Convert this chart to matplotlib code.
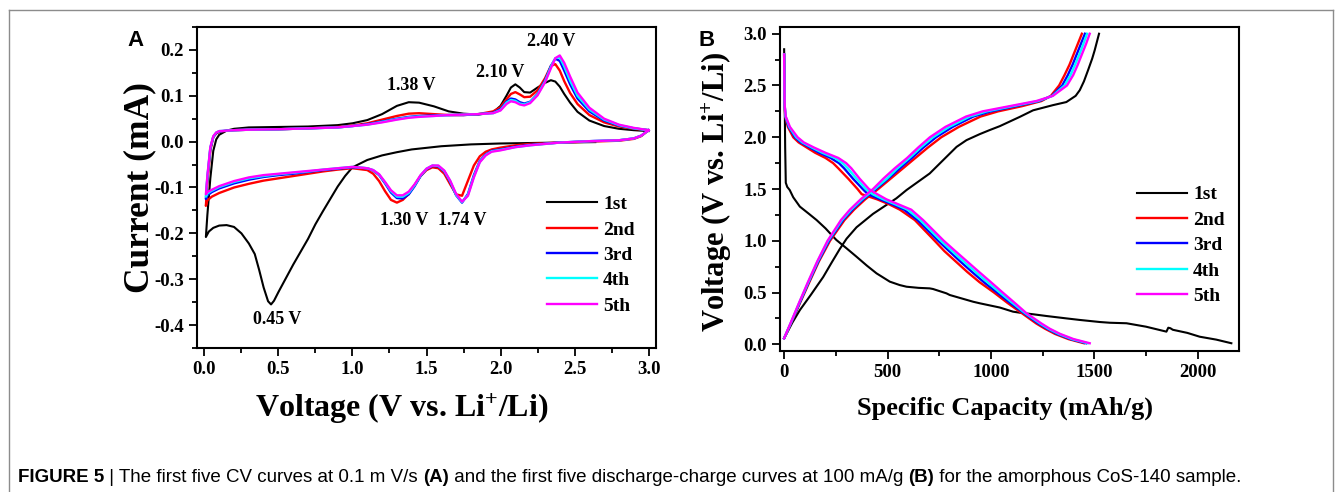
import matplotlib
matplotlib.use('Agg')
import matplotlib.pyplot as plt
from matplotlib.lines import Line2D
from matplotlib.ticker import MultipleLocator, FormatStrFormatter

plt.rcParams['font.family'] = ['Liberation Serif', 'DejaVu Serif']
plt.rcParams['font.weight'] = 'bold'
plt.rcParams['mathtext.fontset'] = 'custom'
plt.rcParams['mathtext.rm'] = 'Liberation Serif:bold'
plt.rcParams['mathtext.default'] = 'rm'

cycles = ['1st', '2nd', '3rd', '4th', '5th']
colors = ['black', '#ff0000', '#0000ff', '#00ffff', '#ff00ff']

### Panel A: CV data (V, mA)
# first cathodic sweep of cycle 1 (from OCV)
cv1_cath_v = [2.64, 2.4, 2.2, 2.0, 1.8, 1.6, 1.4, 1.3, 1.2, 1.1, 1.0, 0.95, 0.9, 0.85, 0.8,
              0.75, 0.7, 0.65, 0.6, 0.55, 0.5, 0.47, 0.45, 0.43, 0.4, 0.37, 0.34, 0.3,
              0.25, 0.2, 0.15, 0.1, 0.06, 0.03, 0.01]
cv1_cath_i = [-0.001, -0.002, -0.003, -0.004, -0.006, -0.010, -0.017, -0.023, -0.030, -0.040,
              -0.056, -0.075, -0.098, -0.125, -0.152, -0.180, -0.212, -0.240, -0.268, -0.298,
              -0.328, -0.347, -0.355, -0.348, -0.318, -0.280, -0.245, -0.222, -0.200, -0.186,
              -0.182, -0.183, -0.188, -0.196, -0.208]

# anodic sweeps, shared voltage grid
cv_an_v = [0.01, 0.02, 0.04, 0.06, 0.08, 0.1, 0.15, 0.2, 0.3, 0.5, 0.7, 0.9, 1.0, 1.1, 1.2,
           1.3, 1.38, 1.45, 1.55, 1.65, 1.75, 1.85, 1.95, 2.0, 2.04, 2.07, 2.1, 2.13, 2.16,
           2.2, 2.25, 2.3, 2.34, 2.37, 2.40, 2.43, 2.47, 2.52, 2.6, 2.7, 2.8, 2.9, 3.0]
cv_an_1 = [-0.208, -0.16, -0.08, -0.02, 0.005, 0.015, 0.024, 0.028, 0.031, 0.032, 0.033, 0.036,
           0.040, 0.047, 0.060, 0.078, 0.086, 0.085, 0.077, 0.066, 0.061, 0.059, 0.064, 0.078,
           0.100, 0.118, 0.125, 0.118, 0.108,
           0.107, 0.118, 0.128, 0.134, 0.131, 0.120, 0.104, 0.085, 0.065, 0.046, 0.034, 0.028,
           0.025, 0.023]
cv_an_2 = [-0.140, -0.090, -0.020, 0.010, 0.018, 0.021, 0.024, 0.025, 0.026, 0.027, 0.029, 0.032,
           0.035, 0.040, 0.048, 0.056, 0.061, 0.062, 0.060, 0.058, 0.058, 0.060, 0.066, 0.075,
           0.092, 0.104, 0.108, 0.103, 0.097,
           0.098, 0.112, 0.138, 0.165, 0.169, 0.155, 0.132, 0.106, 0.082, 0.058, 0.042, 0.033,
           0.028, 0.025]
cv_an_3 = [-0.125, -0.080, -0.015, 0.010, 0.019, 0.022, 0.024, 0.025, 0.026, 0.027, 0.029, 0.031,
           0.034, 0.038, 0.044, 0.050, 0.054, 0.056, 0.057, 0.058, 0.058, 0.060, 0.063, 0.071,
           0.087, 0.094, 0.092, 0.086, 0.083,
           0.087, 0.104, 0.133, 0.165, 0.181, 0.176, 0.155, 0.125, 0.094, 0.066, 0.046, 0.035,
           0.029, 0.025]
cv_an_4 = [-0.120, -0.077, -0.013, 0.011, 0.020, 0.023, 0.024, 0.025, 0.026, 0.027, 0.029, 0.031,
           0.034, 0.037, 0.043, 0.049, 0.053, 0.055, 0.056, 0.058, 0.059, 0.060, 0.062, 0.069,
           0.085, 0.091, 0.089, 0.083, 0.081,
           0.086, 0.103, 0.131, 0.163, 0.182, 0.184, 0.164, 0.133, 0.100, 0.070, 0.048, 0.036,
           0.029, 0.025]
cv_an_5 = [-0.115, -0.075, -0.012, 0.012, 0.020, 0.023, 0.024, 0.025, 0.026, 0.027, 0.029, 0.031,
           0.034, 0.037, 0.042, 0.048, 0.052, 0.054, 0.056, 0.058, 0.059, 0.060, 0.062, 0.068,
           0.082, 0.088, 0.086, 0.081, 0.079,
           0.084, 0.101, 0.129, 0.160, 0.182, 0.188, 0.172, 0.142, 0.107, 0.074, 0.050, 0.037,
           0.030, 0.025]

# cathodic sweeps of cycles 2-5, shared voltage grid
cv_cath_v = [3.0, 2.95, 2.9, 2.8, 2.6, 2.4, 2.2, 2.1, 2.0,
             1.94, 1.90, 1.86, 1.82, 1.78, 1.74, 1.70, 1.66, 1.62, 1.58, 1.54, 1.50, 1.46,
             1.42, 1.38, 1.34, 1.30, 1.26, 1.22, 1.18, 1.14, 1.10,
             1.0, 0.9, 0.8, 0.7, 0.6, 0.5, 0.4, 0.3, 0.2, 0.1, 0.05, 0.02, 0.01]
cv_cath_2 = [0.025, 0.012, 0.006, 0.002, 0.000, -0.002, -0.005, -0.008, -0.013,
             -0.017, -0.022, -0.032, -0.052, -0.085, -0.118, -0.115, -0.093, -0.070, -0.058,
             -0.056, -0.062, -0.075, -0.094, -0.114, -0.127, -0.133, -0.127, -0.108, -0.086,
             -0.070, -0.062,
             -0.058, -0.061, -0.065, -0.070, -0.075, -0.080, -0.085, -0.092, -0.100, -0.112,
             -0.120, -0.128, -0.140]
cv_cath_3 = [0.025, 0.013, 0.007, 0.003, 0.001, -0.002, -0.007, -0.011, -0.017,
             -0.020, -0.028, -0.042, -0.073, -0.114, -0.133, -0.117, -0.088, -0.065, -0.054,
             -0.053, -0.060, -0.075, -0.097, -0.115, -0.124, -0.123, -0.111, -0.091, -0.073,
             -0.063, -0.058,
             -0.056, -0.059, -0.062, -0.066, -0.070, -0.073, -0.077, -0.083, -0.091, -0.102,
             -0.110, -0.117, -0.125]
cv_cath_4 = [0.025, 0.013, 0.007, 0.003, 0.001, -0.002, -0.008, -0.012, -0.018,
             -0.021, -0.029, -0.044, -0.076, -0.116, -0.132, -0.116, -0.086, -0.064, -0.053,
             -0.052, -0.059, -0.074, -0.095, -0.112, -0.120, -0.120, -0.108, -0.089, -0.072,
             -0.062, -0.058,
             -0.055, -0.058, -0.061, -0.065, -0.068, -0.071, -0.075, -0.080, -0.088, -0.099,
             -0.107, -0.113, -0.120]
cv_cath_5 = [0.025, 0.013, 0.007, 0.003, 0.001, -0.002, -0.008, -0.012, -0.019,
             -0.022, -0.030, -0.045, -0.078, -0.118, -0.131, -0.114, -0.085, -0.063, -0.052,
             -0.052, -0.059, -0.073, -0.093, -0.109, -0.117, -0.117, -0.106, -0.088, -0.071,
             -0.062, -0.058,
             -0.055, -0.058, -0.061, -0.064, -0.067, -0.070, -0.073, -0.078, -0.086, -0.097,
             -0.105, -0.110, -0.115]

peak_labels = ['1.38 V', '2.10 V', '2.40 V', '1.30 V', '1.74 V', '0.45 V']
peak_x = [1.40, 2.00, 2.34, 1.35, 1.74, 0.49]
peak_y = [0.123, 0.150, 0.218, -0.173, -0.173, -0.388]

### Panel B: discharge / charge data (mAh/g, V)
dis1_cap = [0, 2, 5, 8, 15, 27, 44, 76, 120, 157, 200, 237, 253, 300, 350, 400, 447, 511, 559,
            592, 650, 704, 720, 785, 801, 914, 946, 1043, 1107, 1140, 1204, 1269, 1365, 1430,
            1527, 1575, 1656, 1750, 1849, 1858, 1868, 1880, 1950, 2010, 2090, 2163]
dis1_v = [2.85, 2.5, 1.9, 1.56, 1.52, 1.49, 1.42, 1.33, 1.26, 1.20, 1.12, 1.04, 1.007, 0.93,
          0.846, 0.76, 0.685, 0.605, 0.572, 0.556, 0.545, 0.54, 0.534, 0.492, 0.476, 0.411,
          0.396, 0.355, 0.315, 0.305, 0.29, 0.273, 0.25, 0.235, 0.215, 0.208, 0.203, 0.17,
          0.122, 0.16, 0.155, 0.14, 0.11, 0.073, 0.045, 0.01]
chg1_cap = [0, 40, 76, 130, 189, 230, 269, 302, 350, 430, 543, 592, 704, 753, 834, 882, 946, 995,
            1043, 1140, 1204, 1300, 1365, 1410, 1430, 1450, 1470, 1490, 1502, 1523]
chg1_v = [0.058, 0.21, 0.33, 0.48, 0.65, 0.79, 0.92, 1.02, 1.13, 1.26, 1.41, 1.49, 1.65, 1.747,
          1.907, 1.972, 2.03, 2.07, 2.107, 2.197, 2.26, 2.31, 2.34, 2.40, 2.455, 2.54, 2.648,
          2.76, 2.84, 3.0]

dis_v = [2.80, 2.60, 2.40, 2.30, 2.20, 2.10, 2.00, 1.95, 1.90, 1.85, 1.80, 1.75, 1.70, 1.60,
         1.50, 1.45, 1.40, 1.35, 1.30, 1.20, 1.10, 1.00, 0.90, 0.80, 0.70, 0.60, 0.50, 0.40,
         0.30, 0.20, 0.15, 0.10, 0.05, 0.01]
dis_cap_2 = [0, 1, 2, 3, 5, 18, 44, 70, 110, 150, 200, 237, 262, 310, 355, 375, 450, 510, 560,
             632, 680, 728, 775, 830, 885, 945, 1015, 1080, 1150, 1220, 1262, 1310, 1375, 1450]
dis_cap_3 = [0, 1, 2, 3, 6, 22, 52, 80, 125, 170, 225, 265, 290, 333, 380, 405, 465, 525, 580,
             645, 695, 745, 798, 852, 908, 966, 1030, 1093, 1160, 1230, 1272, 1320, 1385, 1460]
dis_cap_4 = [0, 1, 2, 3, 7, 25, 58, 88, 135, 185, 245, 283, 308, 350, 395, 428, 480, 540, 598,
             658, 708, 758, 812, 868, 925, 983, 1043, 1104, 1166, 1238, 1278, 1328, 1392, 1468]
dis_cap_5 = [0, 1, 2, 3, 8, 28, 65, 95, 145, 200, 262, 300, 325, 365, 410, 450, 495, 555, 615,
             672, 722, 772, 828, 885, 942, 1000, 1057, 1115, 1172, 1245, 1285, 1335, 1400, 1478]

chg_v = [0.058, 0.2, 0.4, 0.6, 0.8, 1.0, 1.2, 1.3, 1.4, 1.5, 1.6, 1.7, 1.8, 1.9, 2.0, 2.1, 2.2,
         2.25, 2.3, 2.35, 2.4, 2.5, 2.6, 2.7, 2.8, 2.9, 3.0]
chg_cap_2 = [0, 33, 77, 122, 168, 222, 292, 338, 392, 455, 515, 575, 635, 695, 760, 845, 950,
             1035, 1150, 1245, 1290, 1330, 1356, 1380, 1400, 1420, 1440]
chg_cap_3 = [0, 32, 75, 119, 165, 217, 285, 330, 383, 445, 503, 560, 618, 673, 735, 815, 915,
             1000, 1120, 1235, 1295, 1345, 1372, 1395, 1415, 1435, 1455]
chg_cap_4 = [0, 31, 73, 117, 162, 213, 280, 324, 377, 438, 497, 548, 606, 660, 720, 798, 898,
             980, 1105, 1228, 1298, 1356, 1385, 1407, 1428, 1447, 1465]
chg_cap_5 = [0, 30, 72, 115, 160, 210, 275, 318, 370, 430, 480, 535, 595, 648, 705, 780, 880,
             960, 1090, 1220, 1300, 1368, 1398, 1420, 1440, 1460, 1478]

### Figure
W, H = 1342, 492
fig = plt.figure(figsize=(W / 100, H / 100), dpi=100)

def px_box(x0, y0, x1, y1):
    return [x0 / W, 1 - y1 / H, (x1 - x0) / W, (y1 - y0) / H]

axA = fig.add_axes(px_box(197, 27, 656, 348))
axB = fig.add_axes(px_box(780, 27, 1239, 351))

# panel A curves
axA.plot(cv1_cath_v + cv_an_v, cv1_cath_i + cv_an_1, color=colors[0], lw=1.5, label=cycles[0])
for k, (cath, an) in enumerate([(cv_cath_2, cv_an_2), (cv_cath_3, cv_an_3),
                                (cv_cath_4, cv_an_4), (cv_cath_5, cv_an_5)]):
    axA.plot(cv_cath_v + cv_an_v, cath + an, color=colors[k + 1], lw=1.7, label=cycles[k + 1])

for lab, x, y in zip(peak_labels, peak_x, peak_y):
    axA.text(x, y, lab, ha='center', va='center', fontsize=13, fontweight='bold')

axA.set_xlim(-0.05, 3.05)
axA.set_ylim(-0.45, 0.25)
axA.xaxis.set_major_locator(MultipleLocator(0.5))
axA.xaxis.set_minor_locator(MultipleLocator(0.25))
axA.yaxis.set_major_locator(MultipleLocator(0.1))
axA.yaxis.set_minor_locator(MultipleLocator(0.05))
axA.xaxis.set_major_formatter(FormatStrFormatter('%.1f'))
axA.yaxis.set_major_formatter(FormatStrFormatter('%.1f'))
axA.set_xlabel('Voltage (V vs. Li$^{+}$/Li)', fontsize=23, fontweight='bold', va='center')
axA.set_ylabel('Current (mA)', fontsize=25.5, fontweight='bold', va='center')
axA.xaxis.set_label_coords(0.447, -0.19)
axA.yaxis.set_label_coords(-0.124, 0.5)

# panel B curves
axB.plot(dis1_cap, dis1_v, color=colors[0], lw=1.5, label=cycles[0])
axB.plot(chg1_cap, chg1_v, color=colors[0], lw=1.5)
for k, (dc, cc) in enumerate([(dis_cap_2, chg_cap_2), (dis_cap_3, chg_cap_3),
                              (dis_cap_4, chg_cap_4), (dis_cap_5, chg_cap_5)]):
    axB.plot(dc, dis_v, color=colors[k + 1], lw=1.7, label=cycles[k + 1])
    axB.plot(cc, chg_v, color=colors[k + 1], lw=1.7)

axB.set_xlim(-20, 2200)
axB.set_ylim(-0.065, 3.065)
axB.xaxis.set_major_locator(MultipleLocator(500))
axB.xaxis.set_minor_locator(MultipleLocator(250))
axB.yaxis.set_major_locator(MultipleLocator(0.5))
axB.yaxis.set_minor_locator(MultipleLocator(0.25))
axB.yaxis.set_major_formatter(FormatStrFormatter('%.1f'))
axB.set_xlabel('Specific Capacity (mAh/g)', fontsize=19, fontweight='bold', va='center')
axB.set_ylabel('Voltage (V vs. Li$^{+}$/Li)', fontsize=22, fontweight='bold', va='center')
axB.xaxis.set_label_coords(0.49, -0.176)
axB.yaxis.set_label_coords(-0.137, 0.49)

for ax, anchor in [(axA, (0.762, 0.475)), (axB, (0.777, 0.51))]:
    for s in ax.spines.values():
        s.set_linewidth(1.5)
    ax.tick_params(which='both', direction='out', top=False, right=False, width=1.3,
                   labelsize=13.5)
    ax.tick_params(which='major', length=6)
    ax.tick_params(which='minor', length=3.5)
    for t in ax.get_xticklabels() + ax.get_yticklabels():
        t.set_fontweight('bold')
    ax.legend(loc='upper left', bbox_to_anchor=anchor, frameon=False,
              borderpad=0, borderaxespad=0, handlelength=2.6, handletextpad=0.3,
              labelspacing=0.4, prop={'weight': 'bold', 'size': 14})

# panel letters
fig.text(135 / W, 1 - 40 / H, 'A', family='Liberation Sans', fontsize=16, fontweight='bold',
         ha='center', va='center')
fig.text(707 / W, 1 - 40 / H, 'B', family='Liberation Sans', fontsize=16, fontweight='bold',
         ha='center', va='center')

# outer frame (open at bottom)
frame_kw = dict(color='#8c8c8c', lw=1.0, transform=fig.transFigure)
fig.add_artist(Line2D([9 / W, 9 / W], [0, 1 - 10 / H], **frame_kw))
fig.add_artist(Line2D([9 / W, 1333 / W], [1 - 10 / H, 1 - 10 / H], **frame_kw))
fig.add_artist(Line2D([1333 / W, 1333 / W], [0, 1 - 10 / H], **frame_kw))

# caption, mixed bold / regular pieces
caption = [('FIGURE 5', 'bold'), (' | The first five CV curves at 0.1 m V/s ', 'normal'),
           ('(A)', 'bold'), (' and the first five discharge-charge curves at 100 mA/g ', 'normal'),
           ('(B)', 'bold'), (' for the amorphous CoS-140 sample.', 'normal')]
renderer = fig.canvas.get_renderer()
x = 18
for txt, wt in caption:
    t = fig.text(x / W, 1 - 477 / H, txt, family='Liberation Sans', fontsize=13.5,
                 fontweight=wt, ha='left', va='center')
    x += t.get_window_extent(renderer).width

fig.savefig('out.png', dpi=100)
